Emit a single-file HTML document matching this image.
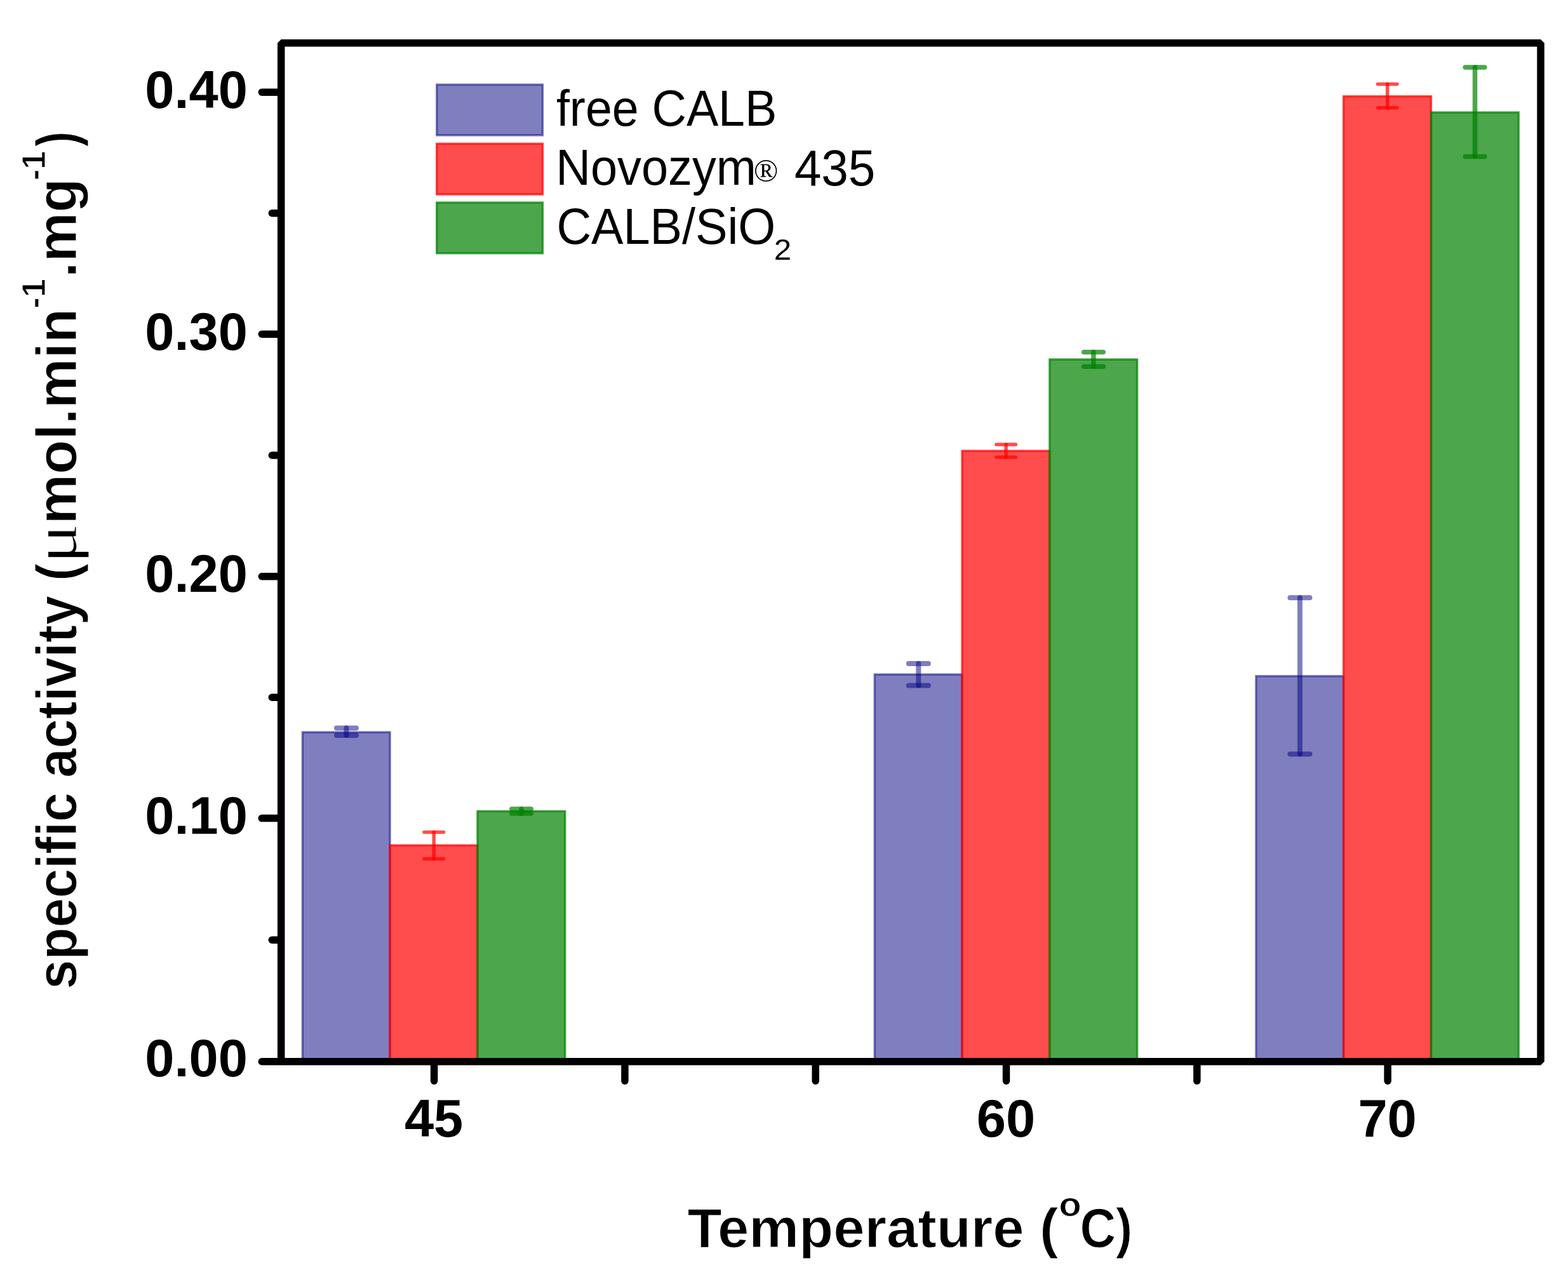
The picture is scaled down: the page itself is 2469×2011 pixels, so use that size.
<!DOCTYPE html>
<html><head><meta charset="utf-8"><title>specific activity vs temperature</title>
<style>
html,body{margin:0;padding:0;background:#fff;}
body{width:2469px;height:2011px;overflow:hidden;}
svg{display:block;}
text{font-family:"Liberation Sans",Arial,sans-serif;fill:#000;}
</style></head><body>
<svg width="2469" height="2011" viewBox="0 0 2469 2011">
<rect x="0" y="0" width="2469" height="2011" fill="#fff"/>
<g id="bars" stroke-width="3.4" stroke-linejoin="miter">
<rect x="476.3" y="1153.0" width="137.8" height="518.8" fill="#000080" fill-opacity="0.5" stroke="#000080" stroke-opacity="0.5"/>
<rect x="614.1" y="1331.2" width="137.8" height="340.6" fill="#FF0000" fill-opacity="0.7" stroke="#FF0000" stroke-opacity="0.7"/>
<rect x="751.9" y="1277.5" width="137.8" height="394.3" fill="#008000" fill-opacity="0.7" stroke="#008000" stroke-opacity="0.7"/>
<rect x="1377.2" y="1062.0" width="137.8" height="609.8" fill="#000080" fill-opacity="0.5" stroke="#000080" stroke-opacity="0.5"/>
<rect x="1515.0" y="710.0" width="137.8" height="961.8" fill="#FF0000" fill-opacity="0.7" stroke="#FF0000" stroke-opacity="0.7"/>
<rect x="1652.8" y="566.0" width="137.8" height="1105.8" fill="#008000" fill-opacity="0.7" stroke="#008000" stroke-opacity="0.7"/>
<rect x="1977.8" y="1064.7" width="137.8" height="607.1" fill="#000080" fill-opacity="0.5" stroke="#000080" stroke-opacity="0.5"/>
<rect x="2115.6" y="151.7" width="137.8" height="1520.1" fill="#FF0000" fill-opacity="0.7" stroke="#FF0000" stroke-opacity="0.7"/>
<rect x="2253.4" y="177.0" width="137.8" height="1494.8" fill="#008000" fill-opacity="0.7" stroke="#008000" stroke-opacity="0.7"/>
</g>
<g id="errors" stroke-linecap="round">
<g stroke="#000080" stroke-width="8.0" stroke-opacity="0.5"><line x1="545.4" y1="1146.5" x2="545.4" y2="1158.0"/><line x1="529.9" y1="1146.5" x2="560.9" y2="1146.5"/><line x1="529.9" y1="1158.0" x2="560.9" y2="1158.0"/></g>
<g stroke="#FF0000" stroke-width="5.5" stroke-opacity="0.7"><line x1="683.2" y1="1310.4" x2="683.2" y2="1352.6"/><line x1="668.0" y1="1310.4" x2="698.5" y2="1310.4"/><line x1="668.0" y1="1352.6" x2="698.5" y2="1352.6"/></g>
<g stroke="#008000" stroke-width="7.5" stroke-opacity="0.7"><line x1="821.0" y1="1274.0" x2="821.0" y2="1281.0"/><line x1="805.8" y1="1274.0" x2="836.2" y2="1274.0"/><line x1="805.8" y1="1281.0" x2="836.2" y2="1281.0"/></g>
<g stroke="#000080" stroke-width="8.0" stroke-opacity="0.5"><line x1="1446.3" y1="1044.9" x2="1446.3" y2="1079.5"/><line x1="1430.8" y1="1044.9" x2="1461.8" y2="1044.9"/><line x1="1430.8" y1="1079.5" x2="1461.8" y2="1079.5"/></g>
<g stroke="#FF0000" stroke-width="5.5" stroke-opacity="0.7"><line x1="1584.1" y1="700.0" x2="1584.1" y2="720.0"/><line x1="1568.9" y1="700.0" x2="1599.4" y2="700.0"/><line x1="1568.9" y1="720.0" x2="1599.4" y2="720.0"/></g>
<g stroke="#008000" stroke-width="7.5" stroke-opacity="0.7"><line x1="1721.9" y1="554.5" x2="1721.9" y2="577.3"/><line x1="1706.7" y1="554.5" x2="1737.2" y2="554.5"/><line x1="1706.7" y1="577.3" x2="1737.2" y2="577.3"/></g>
<g stroke="#000080" stroke-width="8.0" stroke-opacity="0.5"><line x1="2046.9" y1="941.2" x2="2046.9" y2="1187.4"/><line x1="2031.4" y1="941.2" x2="2062.4" y2="941.2"/><line x1="2031.4" y1="1187.4" x2="2062.4" y2="1187.4"/></g>
<g stroke="#FF0000" stroke-width="5.5" stroke-opacity="0.7"><line x1="2184.7" y1="132.6" x2="2184.7" y2="169.8"/><line x1="2169.4" y1="132.6" x2="2199.9" y2="132.6"/><line x1="2169.4" y1="169.8" x2="2199.9" y2="169.8"/></g>
<g stroke="#008000" stroke-width="7.5" stroke-opacity="0.7"><line x1="2322.5" y1="106.0" x2="2322.5" y2="246.5"/><line x1="2307.2" y1="106.0" x2="2337.8" y2="106.0"/><line x1="2307.2" y1="246.5" x2="2337.8" y2="246.5"/></g>
</g>
<g id="axes" stroke="#000" stroke-width="11.5" fill="none">
<rect x="442.7" y="67.7" width="1983.3" height="1604.1" stroke-linejoin="bevel"/>
<line x1="412.3" y1="1671.8" x2="441.7" y2="1671.8" stroke-linecap="round"/>
<line x1="412.3" y1="1288.6" x2="441.7" y2="1288.6" stroke-linecap="round"/>
<line x1="412.3" y1="907.8" x2="441.7" y2="907.8" stroke-linecap="round"/>
<line x1="412.3" y1="526.2" x2="441.7" y2="526.2" stroke-linecap="round"/>
<line x1="412.3" y1="145.2" x2="441.7" y2="145.2" stroke-linecap="round"/>
<line x1="428.3" y1="1480.2" x2="441.7" y2="1480.2" stroke-linecap="round"/>
<line x1="428.3" y1="1098.2" x2="441.7" y2="1098.2" stroke-linecap="round"/>
<line x1="428.3" y1="717.0" x2="441.7" y2="717.0" stroke-linecap="round"/>
<line x1="428.3" y1="335.7" x2="441.7" y2="335.7" stroke-linecap="round"/>
<line x1="683.6" y1="1672.8" x2="683.6" y2="1702.3" stroke-linecap="round"/>
<line x1="983.9" y1="1672.8" x2="983.9" y2="1702.3" stroke-linecap="round"/>
<line x1="1284.2" y1="1672.8" x2="1284.2" y2="1702.3" stroke-linecap="round"/>
<line x1="1584.5" y1="1672.8" x2="1584.5" y2="1702.3" stroke-linecap="round"/>
<line x1="1884.8" y1="1672.8" x2="1884.8" y2="1702.3" stroke-linecap="round"/>
<line x1="2185.1" y1="1672.8" x2="2185.1" y2="1702.3" stroke-linecap="round"/>
</g>
<g id="ylabels" font-weight="bold" font-size="83" text-anchor="end">
<text x="389.8" y="1695.0">0.00</text>
<text x="389.8" y="1313.0">0.10</text>
<text x="389.8" y="932.2">0.20</text>
<text x="389.8" y="550.6">0.30</text>
<text x="389.8" y="169.6">0.40</text>
</g>
<g id="xlabels" font-weight="bold" font-size="83" text-anchor="middle">
<text x="683.1" y="1790.0">45</text>
<text x="1584.0" y="1790.0">60</text>
<text x="2184.6" y="1790.0">70</text>
</g>
<g id="xtitle" font-weight="bold" stroke="#fff" stroke-width="1.1"><text font-size="87" x="1082.6" y="1963.5" textLength="584.0" lengthAdjust="spacingAndGlyphs">Temperature (</text><text font-size="54" x="1667.2" y="1915.2" textLength="35.5" lengthAdjust="spacingAndGlyphs">o</text><text font-size="87" x="1700.4" y="1963.5" textLength="82.7" lengthAdjust="spacingAndGlyphs">C)</text></g>
<g id="ytitle" transform="rotate(-90)" font-weight="bold" stroke="#fff" stroke-width="1.1"><text font-size="89" x="-1557.7" y="119.5" textLength="670.4" lengthAdjust="spacingAndGlyphs">specific activity (</text><text font-size="96" x="-887.4" y="119.5" textLength="63.4" lengthAdjust="spacingAndGlyphs" font-weight="normal" style="font-family:'Liberation Serif',serif">μ</text><text font-size="89" x="-825.4" y="119.5" textLength="339.5" lengthAdjust="spacingAndGlyphs">mol.min</text><text font-size="52" x="-485.7" y="71.1" textLength="46.8" lengthAdjust="spacingAndGlyphs">-1</text><text font-size="89" x="-437.0" y="119.5" textLength="156.1" lengthAdjust="spacingAndGlyphs">.mg</text><text font-size="52" x="-284.1" y="71.1" textLength="46.5" lengthAdjust="spacingAndGlyphs">-1</text><text font-size="89" x="-231.0" y="119.5" textLength="23.9" lengthAdjust="spacingAndGlyphs">)</text></g>
<g id="legend" stroke-width="3.4">
<rect x="687.7" y="133.2" width="166.8" height="79.8" fill="#000080" fill-opacity="0.5" stroke="#000080" stroke-opacity="0.5"/>
<rect x="687.7" y="226.3" width="166.8" height="79.8" fill="#FF0000" fill-opacity="0.7" stroke="#FF0000" stroke-opacity="0.7"/>
<rect x="687.7" y="319.0" width="166.8" height="79.8" fill="#008000" fill-opacity="0.7" stroke="#008000" stroke-opacity="0.7"/>
</g>
<g id="legtext" font-size="79">
<text x="875.9" y="198.3" textLength="347.3" lengthAdjust="spacingAndGlyphs">free CALB</text>
<text x="875.2" y="291.4" textLength="315.8" lengthAdjust="spacingAndGlyphs">Novozym</text>
<text x="1186.8" y="286" style="font-family:'Liberation Serif',serif" font-size="51">®</text>
<text x="1250.9" y="291.8" textLength="127.3" lengthAdjust="spacingAndGlyphs">435</text>
<text x="876.4" y="384" textLength="344.8" lengthAdjust="spacingAndGlyphs">CALB/SiO</text>
<text x="1218.7" y="408.5" font-size="46" textLength="27.4" lengthAdjust="spacingAndGlyphs">2</text>
</g>
</svg></body></html>
